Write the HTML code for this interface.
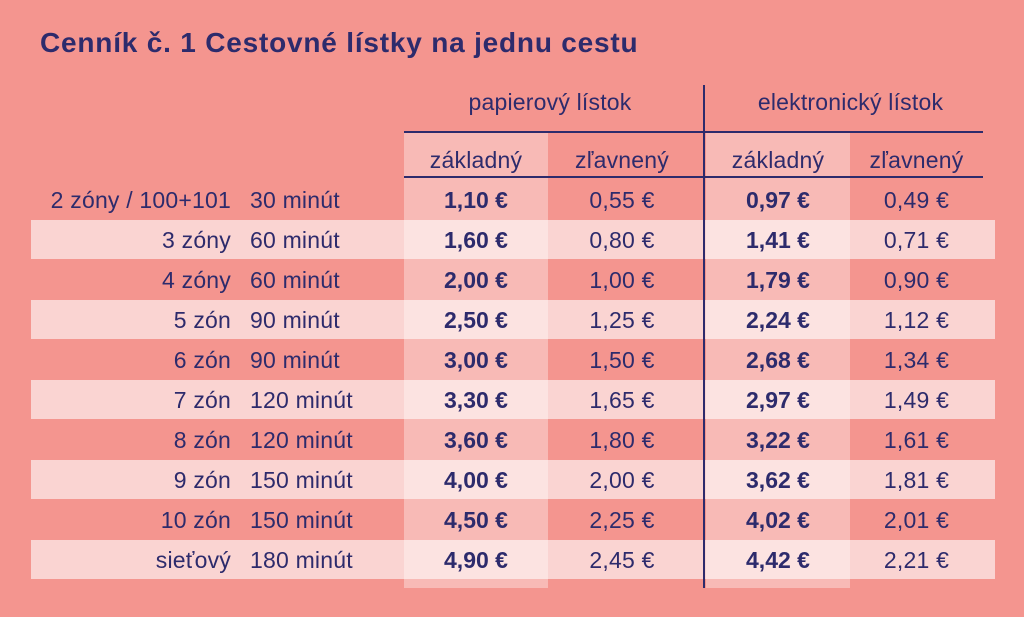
<!DOCTYPE html>
<html><head><meta charset="utf-8"><style>
body{margin:0;width:1024px;height:617px;background:#f4958f;font-family:"Liberation Sans",sans-serif;color:#2d2b6c;position:relative;overflow:hidden}
div{position:absolute}
.t{left:40px;top:27px;font-size:28px;letter-spacing:0.8px;font-weight:bold;white-space:nowrap}
.band{left:31px;width:964px;height:39px;background:#fad4d2}
.colz{width:144px;top:132px;height:456px;background:rgba(255,255,255,0.35)}
.c{font-size:23px;letter-spacing:0.2px;text-align:center;line-height:40px;white-space:nowrap}
.b{font-weight:bold;letter-spacing:0}
.hl{height:2px;background:#2d2b6c;left:404px;width:579px}
</style></head><body>
<div class="t">Cenník č. 1 Cestovné lístky na jednu cestu</div>
<div class="colz" style="left:404px"></div>
<div class="colz" style="left:706px"></div>
<div class="hl" style="top:131px"></div>
<div class="hl" style="top:176px"></div>
<div style="left:703px;top:85px;width:2px;height:503px;background:#2d2b6c"></div>
<div class="c" style="left:404px;width:292px;top:82px">papierový lístok</div>
<div class="c" style="left:706px;width:289px;top:82px">elektronický lístok</div>
<div class="c" style="left:404px;width:144px;top:140px">základný</div>
<div class="c" style="left:548px;width:148px;top:140px">zľavnený</div>
<div class="c" style="left:706px;width:144px;top:140px">základný</div>
<div class="c" style="left:850px;width:133px;top:140px">zľavnený</div>
<script>
var rows=[["2 zóny / 100+101","30 minút","1,10 €","0,55 €","0,97 €","0,49 €"],
["3 zóny","60 minút","1,60 €","0,80 €","1,41 €","0,71 €"],
["4 zóny","60 minút","2,00 €","1,00 €","1,79 €","0,90 €"],
["5 zón","90 minút","2,50 €","1,25 €","2,24 €","1,12 €"],
["6 zón","90 minút","3,00 €","1,50 €","2,68 €","1,34 €"],
["7 zón","120 minút","3,30 €","1,65 €","2,97 €","1,49 €"],
["8 zón","120 minút","3,60 €","1,80 €","3,22 €","1,61 €"],
["9 zón","150 minút","4,00 €","2,00 €","3,62 €","1,81 €"],
["10 zón","150 minút","4,50 €","2,25 €","4,02 €","2,01 €"],
["sieťový","180 minút","4,90 €","2,45 €","4,42 €","2,21 €"]];
var h="";
rows.forEach(function(r,i){var y=180+i*40;
h+='<div class="c" style="left:0;width:231px;text-align:right;top:'+y+'px">'+r[0]+'</div>';
h+='<div class="c" style="left:250px;text-align:left;top:'+y+'px">'+r[1]+'</div>';
h+='<div class="c b" style="left:404px;width:144px;top:'+y+'px">'+r[2]+'</div>';
h+='<div class="c" style="left:548px;width:148px;top:'+y+'px">'+r[3]+'</div>';
h+='<div class="c b" style="left:706px;width:144px;top:'+y+'px">'+r[4]+'</div>';
h+='<div class="c" style="left:850px;width:133px;top:'+y+'px">'+r[5]+'</div>';});
document.body.insertAdjacentHTML('beforeend',h);
var first=document.querySelector('.colz');
for(var i=1;i<10;i+=2){var d=document.createElement('div');d.className='band';d.style.top=(180+i*40)+'px';document.body.insertBefore(d,first);}
</script>
</body></html>
